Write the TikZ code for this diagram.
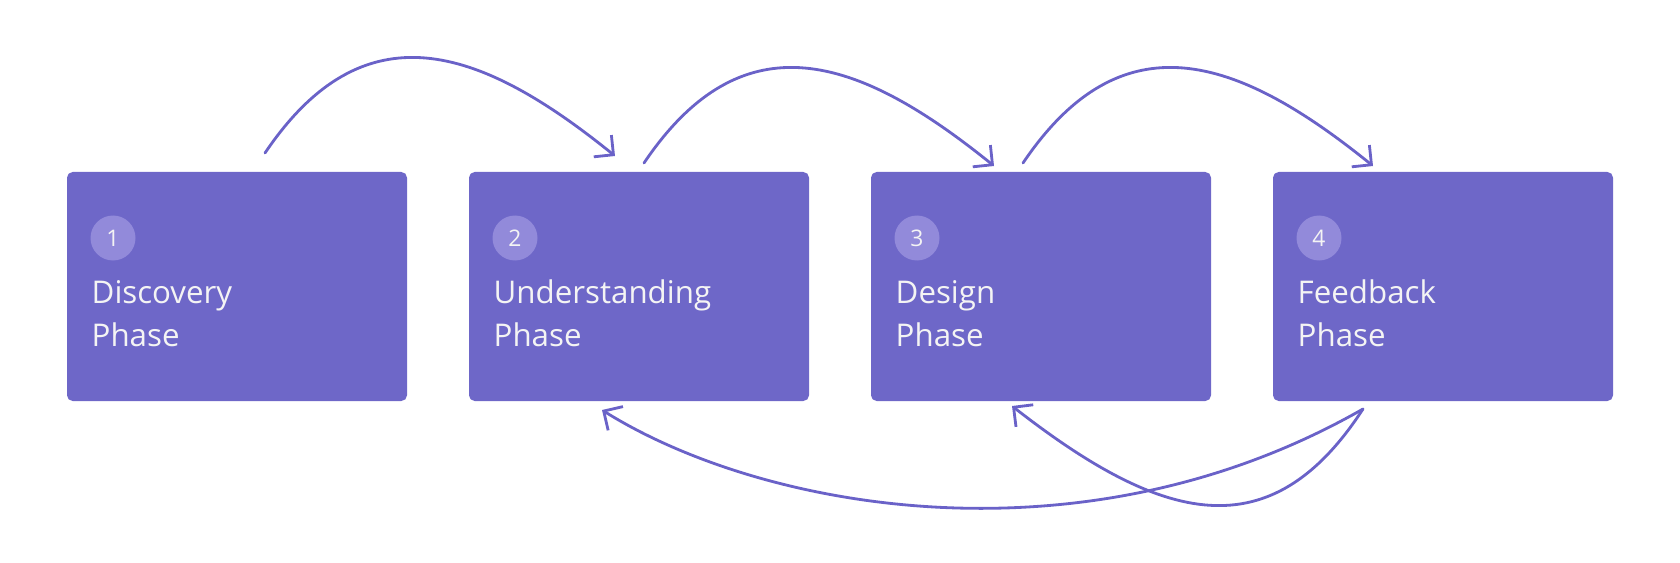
\documentclass[tikz,border=0pt]{standalone}
\usepackage{xcolor}
\definecolor{phasefill}{HTML}{6E67C8}
\definecolor{dotfill}{HTML}{928ADA}
\definecolor{flowline}{HTML}{6A62C8}
\definecolor{phasetxt}{HTML}{F4F4F4}
\usepackage{fontspec}
\setmainfont{Open Sans}
\usepackage{tikz}
\usetikzlibrary{arrows.meta}

\begin{document}
\begin{tikzpicture}[
        phasebox/.style={rectangle, rounded corners=1.6pt, fill=phasefill, minimum width=3.4cm, minimum height=2.29cm, inner sep=0},
        numdot/.style={circle, fill=dotfill, minimum size=0.45cm, inner sep=0, text=phasetxt, font=\fontsize{6.5}{7}\selectfont},
        phasetext/.style={anchor=base west, align=left, inner sep=0, text=phasetxt, font=\fontsize{8.9}{12.3}\selectfont},
        flow/.style={draw=flowline, line width=0.8pt, line cap=round, -{Straight Barb[length=1.4mm, width=2.8mm]}}
    ]
                        \useasboundingbox (0,0) rectangle (16.8,-5.63);

                        \node (disc) at (2.37, -2.865) [phasebox] {};
                        \node (und) at (6.39, -2.865) [phasebox] {};
                        \node (des) at (10.41, -2.865) [phasebox] {};
                        \node (feed) at (14.43, -2.865) [phasebox] {};

                        \node (n1) at (1.13, -2.38) [numdot] {1};
                        \node (n2) at (5.15, -2.38) [numdot] {2};
                        \node (n3) at (9.17, -2.38) [numdot] {3};
                        \node (n4) at (13.19, -2.38) [numdot] {4};

                        \node (t1) at (0.91, -3.47) [phasetext] {Discovery\\Phase};
                        \node (t2) at (4.93, -3.47) [phasetext] {Understanding\\Phase};
                        \node (t3) at (8.95, -3.47) [phasetext] {Design\\Phase};
                        \node (t4) at (12.97, -3.47) [phasetext] {Feedback\\Phase};

                        \coordinate (disc-top) at (2.65, -1.53);
                        \coordinate (und-in) at (6.15, -1.56);
                        \coordinate (und-top) at (6.44, -1.63);
                        \coordinate (des-in) at (9.94, -1.66);
                        \coordinate (des-top) at (10.23, -1.63);
                        \coordinate (feed-in) at (13.73, -1.66);
                        \coordinate (feed-bot) at (13.63, -4.09);
                        \coordinate (und-bot) at (6.02, -4.10);
                        \coordinate (des-bot) at (10.12, -4.06);

                        \draw[flow] (disc-top) .. controls +(56:1.76) and +(141:1.76) .. (und-in);
                        \draw[flow] (und-top) .. controls +(56:1.76) and +(141:1.76) .. (des-in);
                        \draw[flow] (des-top) .. controls +(56:1.76) and +(141:1.76) .. (feed-in);

                        \draw[flow] (feed-bot) .. controls +(-2.8, -1.6) and +(1.6, -1.0) .. (und-bot);
                        \draw[flow] (feed-bot) .. controls +(-0.93, -1.43) and +(1.5, -1.17) .. (des-bot);
                    \end{tikzpicture}
\end{document}
